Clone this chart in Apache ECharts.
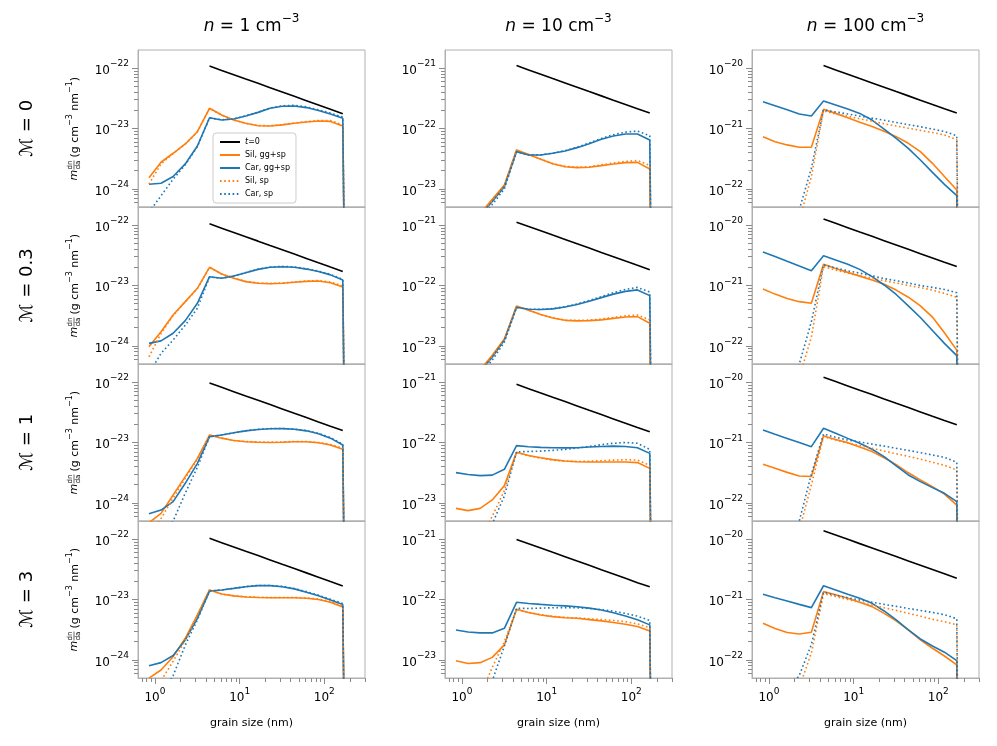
<!DOCTYPE html>
<html><head><meta charset="utf-8">
<script src="https://cdn.jsdelivr.net/npm/echarts@6/dist/echarts.min.js"></script>
<style>html,body{margin:0;padding:0;background:#fff;}#c{width:997px;height:746px;}</style>
</head><body><div id="c"></div>
<script>
// ---------- data ----------
const grainSize = [0.85, 1.18, 1.64, 2.28, 3.17, 4.41, 6.13, 8.52, 11.8, 16.5, 22.9, 31.8, 44.2, 61.4, 85.2, 118, 165, 229];
const densityLabels = ['1', '10', '100'];
const machLabels = ['0', '0.3', '1', '3'];
const seriesNames = ['t=0', 'Sil, gg+sp', 'Car, gg+sp', 'Sil, sp', 'Car, sp'];
const xTickExps = [0, 1, 2];
const yTickExps = [[-24, -23, -22], [-23, -22, -21], [-22, -21, -20]];

// t=0 curves (grain sizes index 5..16)
const t0_n1_M0   = [1.08e-22, 9.16e-23, 7.77e-23, 6.59e-23, 5.59e-23, 4.74e-23, 4.02e-23, 3.41e-23, 2.89e-23, 2.45e-23, 2.08e-23, 1.76e-23];
const t0_n10_M0  = [1.1e-21, 9.33e-22, 7.91e-22, 6.71e-22, 5.69e-22, 4.83e-22, 4.09e-22, 3.47e-22, 2.94e-22, 2.5e-22, 2.12e-22, 1.8e-22];
const t0_n100_M0 = [1.1e-20, 9.33e-21, 7.91e-21, 6.71e-21, 5.69e-21, 4.83e-21, 4.09e-21, 3.47e-21, 2.94e-21, 2.5e-21, 2.12e-21, 1.8e-21];
const t0_n1_M03   = [1.05e-22, 8.9e-23, 7.55e-23, 6.4e-23, 5.43e-23, 4.6e-23, 3.9e-23, 3.31e-23, 2.81e-23, 2.38e-23, 2.02e-23, 1.71e-23];
const t0_n10_M03  = [1.12e-21, 9.5e-22, 8.06e-22, 6.83e-22, 5.79e-22, 4.91e-22, 4.17e-22, 3.53e-22, 3.0e-22, 2.54e-22, 2.16e-22, 1.83e-22];
const t0_n100_M03 = [1.26e-20, 1.07e-20, 9.06e-21, 7.69e-21, 6.52e-21, 5.53e-21, 4.69e-21, 3.98e-21, 3.37e-21, 2.86e-21, 2.43e-21, 2.06e-21];
const t0_n1_M1   = [9.66e-23, 8.2e-23, 6.95e-23, 5.9e-23, 5.0e-23, 4.24e-23, 3.6e-23, 3.05e-23, 2.59e-23, 2.19e-23, 1.86e-23, 1.58e-23];
const t0_n10_M1  = [9.2e-22, 7.8e-22, 6.62e-22, 5.61e-22, 4.76e-22, 4.04e-22, 3.42e-22, 2.9e-22, 2.46e-22, 2.09e-22, 1.77e-22, 1.5e-22];
const t0_n100_M1 = [1.2e-20, 1.02e-20, 8.63e-21, 7.32e-21, 6.21e-21, 5.26e-21, 4.46e-21, 3.79e-21, 3.21e-21, 2.72e-21, 2.31e-21, 1.96e-21];
const t0_n1_M3   = [1.03e-22, 8.73e-23, 7.41e-23, 6.28e-23, 5.33e-23, 4.52e-23, 3.83e-23, 3.25e-23, 2.76e-23, 2.34e-23, 1.98e-23, 1.68e-23];
const t0_n10_M3  = [9.9e-22, 8.4e-22, 7.12e-22, 6.04e-22, 5.12e-22, 4.34e-22, 3.68e-22, 3.12e-22, 2.65e-22, 2.25e-22, 1.9e-22, 1.62e-22];
const t0_n100_M3 = [1.38e-20, 1.17e-20, 9.92e-21, 8.42e-21, 7.14e-21, 6.05e-21, 5.13e-21, 4.35e-21, 3.69e-21, 3.13e-21, 2.66e-21, 2.25e-21];

// n = 1, M = 0
const silGG_n1_M0 = [1.53e-24, 2.76e-24, 3.89e-24, 5.55e-24, 8.85e-24, 2.16e-23, 1.67e-23, 1.38e-23, 1.22e-23, 1.11e-23, 1.10e-23, 1.15e-23, 1.22e-23, 1.28e-23, 1.33e-23, 1.31e-23, 1.10e-23, 0];
const carGG_n1_M0 = [1.19e-24, 1.24e-24, 1.60e-24, 2.59e-24, 5.14e-24, 1.51e-23, 1.38e-23, 1.44e-23, 1.61e-23, 1.85e-23, 2.16e-23, 2.33e-23, 2.36e-23, 2.22e-23, 1.98e-23, 1.74e-23, 1.48e-23, 0];
const silSp_n1_M0 = [1.2e-24, 2.6e-24, 3.85e-24, 5.5e-24, 8.8e-24, 2.15e-23, 1.67e-23, 1.38e-23, 1.22e-23, 1.12e-23, 1.11e-23, 1.16e-23, 1.23e-23, 1.30e-23, 1.36e-23, 1.35e-23, 1.15e-23, 0];
const carSp_n1_M0 = [4.1e-25, 7.7e-25, 1.45e-24, 2.5e-24, 5.0e-24, 1.5e-23, 1.39e-23, 1.45e-23, 1.62e-23, 1.87e-23, 2.19e-23, 2.38e-23, 2.42e-23, 2.28e-23, 2.04e-23, 1.80e-23, 1.55e-23, 0];
// n = 10, M = 0
const silGG_n10_M0 = [1.3e-24, 2.3e-24, 3.9e-24, 6.7e-24, 1.16e-23, 4.41e-23, 3.7e-23, 3.1e-23, 2.6e-23, 2.33e-23, 2.25e-23, 2.28e-23, 2.43e-23, 2.59e-23, 2.72e-23, 2.75e-23, 2.14e-23, 0];
const carGG_n10_M0 = [1.2e-24, 2.1e-24, 3.6e-24, 6.2e-24, 1.09e-23, 4.14e-23, 3.65e-23, 3.65e-23, 3.88e-23, 4.25e-23, 4.82e-23, 5.61e-23, 6.62e-23, 7.52e-23, 8.11e-23, 8.11e-23, 6.46e-23, 0];
const silSp_n10_M0 = [1.2e-24, 2.2e-24, 3.7e-24, 6.4e-24, 1.12e-23, 4.38e-23, 3.7e-23, 3.1e-23, 2.62e-23, 2.36e-23, 2.29e-23, 2.33e-23, 2.5e-23, 2.68e-23, 2.85e-23, 2.95e-23, 2.45e-23, 0];
const carSp_n10_M0 = [9e-25, 1.7e-24, 3.1e-24, 5.5e-24, 1.0e-23, 4.1e-23, 3.65e-23, 3.66e-23, 3.9e-23, 4.3e-23, 4.9e-23, 5.75e-23, 6.85e-23, 7.9e-23, 8.7e-23, 9.1e-23, 7.6e-23, 0];
// n = 100, M = 0
const silGG_n100_M0 = [7.33e-22, 6.05e-22, 5.35e-22, 4.89e-22, 4.89e-22, 2.08e-21, 1.78e-21, 1.51e-21, 1.27e-21, 1.08e-21, 9.0e-22, 7.33e-22, 5.69e-22, 4.14e-22, 2.65e-22, 1.6e-22, 9.6e-23, 0];
const carGG_n100_M0 = [2.78e-21, 2.38e-21, 2.04e-21, 1.74e-21, 1.61e-21, 2.86e-21, 2.45e-21, 2.1e-21, 1.78e-21, 1.38e-21, 9.8e-22, 6.88e-22, 4.7e-22, 3.01e-22, 1.88e-22, 1.19e-22, 7.73e-23, 0];
const silSp_n100_M0 = [1e-24, 3e-24, 1e-23, 3e-23, 1.6e-22, 1.95e-21, 1.75e-21, 1.6e-21, 1.45e-21, 1.32e-21, 1.2e-21, 1.1e-21, 1.01e-21, 9.3e-22, 8.6e-22, 7.8e-22, 6.5e-22, 0];
const carSp_n100_M0 = [1.5e-24, 5e-24, 1.5e-23, 4.5e-23, 2.2e-22, 2.03e-21, 1.88e-21, 1.74e-21, 1.6e-21, 1.48e-21, 1.37e-21, 1.26e-21, 1.16e-21, 1.07e-21, 9.8e-22, 8.9e-22, 7.6e-22, 0];
// n = 1, M = 0.3
const silGG_n1_M03 = [9.7e-25, 1.72e-24, 3.25e-24, 5.4e-24, 8.98e-24, 2.0e-23, 1.55e-23, 1.32e-23, 1.16e-23, 1.09e-23, 1.07e-23, 1.09e-23, 1.13e-23, 1.17e-23, 1.19e-23, 1.11e-23, 9.45e-24, 0];
const carGG_n1_M03 = [1.10e-24, 1.21e-24, 1.62e-24, 2.62e-24, 5.07e-24, 1.40e-23, 1.32e-23, 1.44e-23, 1.63e-23, 1.85e-23, 2.0e-23, 2.05e-23, 2.0e-23, 1.87e-23, 1.70e-23, 1.50e-23, 1.23e-23, 0];
const silSp_n1_M03 = [6.6e-25, 1.6e-24, 3.2e-24, 5.35e-24, 8.9e-24, 2.0e-23, 1.55e-23, 1.32e-23, 1.17e-23, 1.10e-23, 1.08e-23, 1.10e-23, 1.14e-23, 1.19e-23, 1.21e-23, 1.14e-23, 9.8e-24, 0];
const carSp_n1_M03 = [3.5e-25, 7.5e-25, 1.25e-24, 2.2e-24, 4.2e-24, 1.38e-23, 1.32e-23, 1.44e-23, 1.64e-23, 1.87e-23, 2.02e-23, 2.07e-23, 2.03e-23, 1.9e-23, 1.73e-23, 1.53e-23, 1.26e-23, 0];
// n = 10, M = 0.3
const silGG_n10_M03 = [1.4e-24, 2.4e-24, 4.0e-24, 7.0e-24, 1.3e-23, 4.58e-23, 3.9e-23, 3.3e-23, 2.9e-23, 2.65e-23, 2.6e-23, 2.62e-23, 2.7e-23, 2.85e-23, 3.0e-23, 3.05e-23, 2.37e-23, 0];
const carGG_n10_M03 = [1.3e-24, 2.2e-24, 3.8e-24, 6.5e-24, 1.25e-23, 4.36e-23, 4.05e-23, 4.0e-23, 4.1e-23, 4.4e-23, 4.85e-23, 5.5e-23, 6.3e-23, 7.2e-23, 8.0e-23, 8.45e-23, 6.8e-23, 0];
const silSp_n10_M03 = [1.3e-24, 2.3e-24, 3.8e-24, 6.7e-24, 1.25e-23, 4.55e-23, 3.9e-23, 3.3e-23, 2.92e-23, 2.68e-23, 2.64e-23, 2.68e-23, 2.78e-23, 2.95e-23, 3.15e-23, 3.25e-23, 2.7e-23, 0];
const carSp_n10_M03 = [1.0e-24, 1.8e-24, 3.3e-24, 5.8e-24, 1.15e-23, 4.3e-23, 4.05e-23, 4.02e-23, 4.15e-23, 4.45e-23, 4.95e-23, 5.65e-23, 6.55e-23, 7.6e-23, 8.6e-23, 9.3e-23, 7.8e-23, 0];
// n = 100, M = 0.3
const silGG_n100_M03 = [8.75e-22, 7.2e-22, 6.1e-22, 5.4e-22, 5.08e-22, 2.24e-21, 1.92e-21, 1.65e-21, 1.43e-21, 1.23e-21, 1.05e-21, 8.4e-22, 6.4e-22, 4.6e-22, 3.0e-22, 1.65e-22, 8.5e-23, 0];
const carGG_n100_M03 = [3.6e-21, 3.03e-21, 2.52e-21, 2.1e-21, 1.76e-21, 3.12e-21, 2.65e-21, 2.25e-21, 1.85e-21, 1.4e-21, 1.02e-21, 7.1e-22, 4.6e-22, 2.95e-22, 1.8e-22, 1.1e-22, 6.9e-23, 0];
const silSp_n100_M03 = [1e-24, 3e-24, 1e-23, 3e-23, 1.4e-22, 2.05e-21, 1.8e-21, 1.6e-21, 1.45e-21, 1.32e-21, 1.2e-21, 1.1e-21, 1.0e-21, 9.2e-22, 8.4e-22, 7.4e-22, 6.4e-22, 0];
const carSp_n100_M03 = [1.5e-24, 5e-24, 1.5e-23, 5e-23, 2.5e-22, 2.2e-21, 1.95e-21, 1.75e-21, 1.6e-21, 1.45e-21, 1.3e-21, 1.2e-21, 1.1e-21, 1.0e-21, 9.3e-22, 8.6e-22, 7.6e-22, 0];
// n = 1, M = 1
const silGG_n1_M1 = [4.7e-25, 6.7e-25, 1.35e-24, 2.72e-24, 5.47e-24, 1.33e-23, 1.18e-23, 1.08e-23, 1.03e-23, 1.01e-23, 1.0e-23, 1.01e-23, 1.03e-23, 1.03e-23, 9.9e-24, 9.1e-24, 7.7e-24, 0];
const carGG_n1_M1 = [6.6e-25, 7.6e-25, 1.05e-24, 2.11e-24, 4.52e-24, 1.25e-23, 1.33e-23, 1.45e-23, 1.56e-23, 1.64e-23, 1.69e-23, 1.70e-23, 1.66e-23, 1.56e-23, 1.40e-23, 1.18e-23, 9.1e-24, 0];
const silSp_n1_M1 = [2.8e-25, 5.5e-25, 1.2e-24, 2.55e-24, 5.3e-24, 1.32e-23, 1.18e-23, 1.08e-23, 1.04e-23, 1.02e-23, 1.01e-23, 1.02e-23, 1.04e-23, 1.04e-23, 1.0e-23, 9.3e-24, 8.0e-24, 0];
const carSp_n1_M1 = [1.5e-25, 3e-25, 5.0e-25, 1.45e-24, 3.9e-24, 1.24e-23, 1.33e-23, 1.45e-23, 1.57e-23, 1.65e-23, 1.70e-23, 1.71e-23, 1.67e-23, 1.58e-23, 1.42e-23, 1.21e-23, 9.4e-24, 0];
// n = 10, M = 1
const silGG_n10_M1 = [8.1e-24, 7.45e-24, 8.1e-24, 1.12e-23, 1.93e-23, 6.87e-23, 6.1e-23, 5.6e-23, 5.2e-23, 4.95e-23, 4.8e-23, 4.75e-23, 4.75e-23, 4.75e-23, 4.75e-23, 4.65e-23, 3.73e-23, 0];
const carGG_n10_M1 = [3.17e-23, 2.95e-23, 2.83e-23, 2.88e-23, 3.6e-23, 8.87e-23, 8.5e-23, 8.3e-23, 8.2e-23, 8.15e-23, 8.2e-23, 8.4e-23, 8.6e-23, 8.7e-23, 8.6e-23, 8.2e-23, 6.6e-23, 0];
const silSp_n10_M1 = [3e-25, 8e-25, 2.5e-24, 6e-24, 1.6e-23, 6.8e-23, 6.0e-23, 5.5e-23, 5.1e-23, 4.9e-23, 4.85e-23, 4.9e-23, 5.0e-23, 5.1e-23, 5.2e-23, 5.1e-23, 4.2e-23, 0];
const carSp_n10_M1 = [2e-25, 5e-25, 1.8e-24, 4.5e-24, 1.3e-23, 7.0e-23, 7.1e-23, 7.2e-23, 7.4e-23, 7.7e-23, 8.1e-23, 8.6e-23, 9.2e-23, 9.7e-23, 1.0e-22, 9.7e-23, 7.7e-23, 0];
// n = 100, M = 1
const silGG_n100_M1 = [4.36e-22, 3.75e-22, 3.2e-22, 2.79e-22, 2.74e-22, 1.28e-21, 1.12e-21, 9.95e-22, 8.4e-22, 7.07e-22, 5.6e-22, 4.3e-22, 3.15e-22, 2.4e-22, 1.86e-22, 1.4e-22, 9.2e-23, 0];
const carGG_n100_M1 = [1.61e-21, 1.37e-21, 1.17e-21, 1.0e-21, 8.54e-22, 1.72e-21, 1.42e-21, 1.17e-21, 9.7e-22, 7.73e-22, 5.83e-22, 4.09e-22, 2.9e-22, 2.25e-22, 1.79e-22, 1.44e-22, 1.05e-22, 0];
const silSp_n100_M1 = [8e-25, 3e-24, 1e-23, 3.5e-23, 2.0e-22, 1.25e-21, 1.1e-21, 9.8e-22, 8.9e-22, 8.0e-22, 7.2e-22, 6.5e-22, 5.9e-22, 5.3e-22, 4.7e-22, 4.2e-22, 3.5e-22, 0];
const carSp_n100_M1 = [1e-24, 4e-24, 1.5e-23, 5e-23, 3.0e-22, 1.38e-21, 1.22e-21, 1.1e-21, 1.02e-21, 9.4e-22, 8.7e-22, 8.0e-22, 7.4e-22, 6.8e-22, 6.2e-22, 5.7e-22, 4.7e-22, 0];
// n = 1, M = 3
const silGG_n1_M3 = [5.0e-25, 6.8e-25, 1.13e-24, 2.28e-24, 5.55e-24, 1.44e-23, 1.23e-23, 1.15e-23, 1.10e-23, 1.08e-23, 1.07e-23, 1.07e-23, 1.07e-23, 1.05e-23, 1.0e-23, 9.0e-24, 7.5e-24, 0];
const carGG_n1_M3 = [8.0e-25, 9.0e-25, 1.18e-24, 2.14e-24, 4.88e-24, 1.38e-23, 1.44e-23, 1.53e-23, 1.63e-23, 1.70e-23, 1.70e-23, 1.63e-23, 1.50e-23, 1.32e-23, 1.15e-23, 9.8e-24, 8.3e-24, 0];
const silSp_n1_M3 = [2.0e-25, 4.5e-25, 9.5e-25, 2.1e-24, 5.4e-24, 1.43e-23, 1.23e-23, 1.15e-23, 1.11e-23, 1.09e-23, 1.08e-23, 1.08e-23, 1.08e-23, 1.06e-23, 1.02e-23, 9.3e-24, 7.8e-24, 0];
const carSp_n1_M3 = [1.2e-25, 2.5e-25, 5.5e-25, 1.75e-24, 4.6e-24, 1.37e-23, 1.44e-23, 1.53e-23, 1.64e-23, 1.71e-23, 1.71e-23, 1.65e-23, 1.52e-23, 1.35e-23, 1.18e-23, 1.01e-23, 8.6e-24, 0];
// n = 10, M = 3
const silGG_n10_M3 = [9.7e-24, 8.7e-24, 9.0e-24, 1.1e-23, 1.77e-23, 6.88e-23, 6.1e-23, 5.55e-23, 5.2e-23, 5.0e-23, 4.9e-23, 4.65e-23, 4.42e-23, 4.15e-23, 3.89e-23, 3.56e-23, 3.01e-23, 0];
const carGG_n10_M3 = [3.13e-23, 2.9e-23, 2.8e-23, 2.8e-23, 3.33e-23, 8.98e-23, 8.6e-23, 8.3e-23, 8.05e-23, 7.85e-23, 7.6e-23, 7.2e-23, 6.7e-23, 6.05e-23, 5.35e-23, 4.6e-23, 3.8e-23, 0];
const silSp_n10_M3 = [3e-25, 1e-24, 2.5e-24, 7.5e-24, 2.0e-23, 6.8e-23, 6.1e-23, 5.6e-23, 5.25e-23, 5.05e-23, 4.95e-23, 4.8e-23, 4.65e-23, 4.5e-23, 4.3e-23, 3.95e-23, 3.4e-23, 0];
const carSp_n10_M3 = [2e-25, 6e-25, 1.8e-24, 4.5e-24, 1.7e-23, 7.15e-23, 7.1e-23, 7.2e-23, 7.3e-23, 7.35e-23, 7.3e-23, 7.1e-23, 6.8e-23, 6.4e-23, 5.9e-23, 5.3e-23, 4.5e-23, 0];
// n = 100, M = 3
const silGG_n100_M3 = [4.04e-22, 3.3e-22, 2.85e-22, 2.69e-22, 2.87e-22, 1.35e-21, 1.2e-21, 1.05e-21, 9.0e-22, 7.62e-22, 5.9e-22, 4.42e-22, 3.13e-22, 2.14e-22, 1.56e-22, 1.16e-22, 8.24e-23, 0];
const carGG_n100_M3 = [1.22e-21, 1.07e-21, 9.45e-22, 8.3e-22, 7.33e-22, 1.69e-21, 1.44e-21, 1.22e-21, 1.05e-21, 8.65e-22, 6.46e-22, 4.58e-22, 3.13e-22, 2.22e-22, 1.7e-22, 1.34e-22, 9.7e-23, 0];
const silSp_n100_M3 = [8e-25, 3e-24, 1.5e-23, 3.5e-23, 1.3e-22, 1.25e-21, 1.12e-21, 1.0e-21, 9.0e-22, 8.1e-22, 7.3e-22, 6.6e-22, 5.9e-22, 5.3e-22, 4.7e-22, 4.3e-22, 3.8e-22, 0];
const carSp_n100_M3 = [1e-24, 5e-24, 3e-23, 5.5e-23, 1.8e-22, 1.32e-21, 1.18e-21, 1.07e-21, 9.8e-22, 9.0e-22, 8.3e-22, 7.7e-22, 7.1e-22, 6.6e-22, 6.1e-22, 5.6e-22, 4.8e-22, 0];

// ---------- build ----------
const panels = [
  [[t0_n1_M0, silGG_n1_M0, carGG_n1_M0, silSp_n1_M0, carSp_n1_M0],
   [t0_n10_M0, silGG_n10_M0, carGG_n10_M0, silSp_n10_M0, carSp_n10_M0],
   [t0_n100_M0, silGG_n100_M0, carGG_n100_M0, silSp_n100_M0, carSp_n100_M0]],
  [[t0_n1_M03, silGG_n1_M03, carGG_n1_M03, silSp_n1_M03, carSp_n1_M03],
   [t0_n10_M03, silGG_n10_M03, carGG_n10_M03, silSp_n10_M03, carSp_n10_M03],
   [t0_n100_M03, silGG_n100_M03, carGG_n100_M03, silSp_n100_M03, carSp_n100_M03]],
  [[t0_n1_M1, silGG_n1_M1, carGG_n1_M1, silSp_n1_M1, carSp_n1_M1],
   [t0_n10_M1, silGG_n10_M1, carGG_n10_M1, silSp_n10_M1, carSp_n10_M1],
   [t0_n100_M1, silGG_n100_M1, carGG_n100_M1, silSp_n100_M1, carSp_n100_M1]],
  [[t0_n1_M3, silGG_n1_M3, carGG_n1_M3, silSp_n1_M3, carSp_n1_M3],
   [t0_n10_M3, silGG_n10_M3, carGG_n10_M3, silSp_n10_M3, carSp_n10_M3],
   [t0_n100_M3, silGG_n100_M3, carGG_n100_M3, silSp_n100_M3, carSp_n100_M3]]
];

const FONT = 'DejaVu Sans';
const L = [138, 445, 752], W = 227, TOP = 50, H = 157;
const XMIN = -0.2, XMAX = 2.48;
const YMIN = [-24.3, -23.3, -22.3], SPAN = 2.6;
const MINUS = '\u2212';
const lx = grainSize.map(v => Math.log10(v));
const CLIP = 1e-40; // zeros drawn as a vertical drop (like a clipped log axis)

function supLabel(v) {
  const n = Math.round(v);
  return '{b|10}{s|' + (n < 0 ? MINUS + (-n) : String(n)) + '}';
}
const tickRich = {
  b: { fontFamily: FONT, fontSize: 12, color: '#000', padding: [5, 0, 0, 0], verticalAlign: 'bottom' },
  s: { fontFamily: FONT, fontSize: 9, color: '#000', verticalAlign: 'top' }
};
function minorTicks(lo, hi) {
  const out = [];
  for (let n = Math.floor(lo) - 1; n <= Math.ceil(hi); n++)
    for (let k = 2; k <= 9; k++) { const v = n + Math.log10(k); if (v > lo && v < hi) out.push(v); }
  return out;
}
const minorX = minorTicks(XMIN, XMAX);
const TICKC = '#8a8a8a';
const colors = ['#000000', '#ff7f0e', '#1f77b4', '#ff7f0e', '#1f77b4'];
const dotted = [false, false, false, true, true];

const grid = [], xAxis = [], yAxis = [], series = [];
for (let r = 0; r < 4; r++) {
  for (let c = 0; c < 3; c++) {
    const g = grid.length;
    grid.push({ left: L[c], top: TOP + H * r, width: W, height: H, show: true, borderColor: '#b0b0b0', borderWidth: 1, backgroundColor: 'transparent' });
    const bottom = r === 3;
    const ymin = YMIN[c], ymax = YMIN[c] + SPAN;
    xAxis.push({ type: 'value', gridIndex: g, min: XMIN, max: XMAX, position: 'bottom',
      axisLine: { show: true, onZero: false, lineStyle: { color: '#b0b0b0', width: 1 } }, splitLine: { show: false },
      axisTick: { show: bottom, inside: false, customValues: xTickExps, length: 6, lineStyle: { color: TICKC, width: 1 } },
      axisLabel: { show: bottom, customValues: xTickExps, formatter: supLabel, rich: tickRich, margin: 9 },
      name: bottom ? 'grain size (nm)' : '', nameLocation: 'middle', nameGap: 40,
      nameTextStyle: { fontFamily: FONT, fontSize: 11, color: '#000' } });
    xAxis.push({ type: 'value', gridIndex: g, min: XMIN, max: XMAX, position: 'bottom',
      axisLine: { show: false, onZero: false }, splitLine: { show: false }, axisLabel: { show: false },
      axisTick: { show: bottom, inside: false, customValues: minorX, length: 4, lineStyle: { color: TICKC, width: 1 } } });
    yAxis.push({ type: 'value', gridIndex: g, min: ymin, max: ymax, position: 'left',
      axisLine: { show: true, onZero: false, lineStyle: { color: '#b0b0b0', width: 1 } }, splitLine: { show: false },
      axisTick: { show: true, inside: false, customValues: yTickExps[c], length: 6, lineStyle: { color: TICKC, width: 1 } },
      axisLabel: { show: true, customValues: yTickExps[c], formatter: supLabel, rich: tickRich, margin: 9 } });
    yAxis.push({ type: 'value', gridIndex: g, min: ymin, max: ymax, position: 'left',
      axisLine: { show: false, onZero: false }, splitLine: { show: false }, axisLabel: { show: false },
      axisTick: { show: true, inside: false, customValues: minorTicks(ymin, ymax), length: 4, lineStyle: { color: TICKC, width: 1 } } });
    const arrs = panels[r][c];
    arrs.forEach((arr, si) => {
      const data = si === 0
        ? arr.map((v, i) => [lx[i + 5], Math.log10(v)])
        : arr.map((v, k) => [lx[k], Math.log10(Math.max(v, CLIP))]);
      series.push({ type: 'line', name: seriesNames[si], xAxisIndex: 2 * g, yAxisIndex: 2 * g,
        data, symbol: 'none', showSymbol: false, clip: true, silent: true, animation: false,
        lineStyle: { color: colors[si], width: 1.6, type: dotted[si] ? [1.6, 2.6] : 'solid' },
        itemStyle: { color: colors[si] } });
    });
  }
}

// text graphics
const black = '#000';
const graphic = [];
densityLabels.forEach((d, c) => {
  graphic.push({ type: 'text', x: L[c] + W / 2, y: 24, silent: true,
    style: { text: '{i|n}{b| = ' + d + ' cm}{s|' + MINUS + '3}', align: 'center', verticalAlign: 'middle',
      textAlign: 'center', textVerticalAlign: 'middle', font: '17px ' + FONT, fill: black,
      rich: { i: { fontFamily: FONT, fontSize: 17, fontStyle: 'italic', fill: black, padding: [6, 0, 0, 0], verticalAlign: 'bottom' },
              b: { fontFamily: FONT, fontSize: 17, fill: black, padding: [6, 0, 0, 0], verticalAlign: 'bottom' },
              s: { fontFamily: FONT, fontSize: 12, fill: black, verticalAlign: 'top' } } } });
});
const supRich = {
  b: { fontFamily: FONT, fontSize: 11, fill: black, padding: [4, 0, 0, 0], verticalAlign: 'bottom' },
  s: { fontFamily: FONT, fontSize: 8, fill: black, verticalAlign: 'top' }
};
machLabels.forEach((m, r) => {
  const cy = TOP + H * r + H / 2;
  graphic.push({ type: 'text', x: 27, y: cy, rotation: Math.PI / 2, silent: true,
    style: { text: '\u2133 = ' + m, align: 'center', verticalAlign: 'middle', textAlign: 'center', textVerticalAlign: 'middle',
      font: '18px ' + FONT, fill: black } });
  graphic.push({ type: 'group', x: 73, y: cy, rotation: Math.PI / 2, silent: true, children: [
    { type: 'text', x: -52, y: 1, style: { text: 'm', font: 'italic 11px ' + FONT, fill: black, align: 'left', verticalAlign: 'middle', textAlign: 'left', textVerticalAlign: 'middle' } },
    { type: 'text', x: -36.5, y: -3, style: { text: 'dn', font: '7px ' + FONT, fill: black, align: 'center', verticalAlign: 'middle', textAlign: 'center', textVerticalAlign: 'middle' } },
    { type: 'line', shape: { x1: -41, y1: 1, x2: -32, y2: 1 }, style: { stroke: black, lineWidth: 0.6 } },
    { type: 'text', x: -36.5, y: 5, style: { text: 'da', font: '7px ' + FONT, fill: black, align: 'center', verticalAlign: 'middle', textAlign: 'center', textVerticalAlign: 'middle' } },
    { type: 'text', x: -29, y: 0, style: { text: '{b|(g cm}{s|' + MINUS + '3}{b| nm}{s|' + MINUS + '1}{b|)}', font: '11px ' + FONT, fill: black,
      align: 'left', verticalAlign: 'middle', textAlign: 'left', textVerticalAlign: 'middle', rich: supRich } }
  ] });
});

const chart = echarts.init(document.getElementById('c'), null, { renderer: 'canvas' });
chart.setOption({
  animation: false,
  backgroundColor: '#ffffff',
  textStyle: { fontFamily: FONT },
  grid, xAxis, yAxis, series, graphic,
  legend: {
    data: seriesNames, orient: 'vertical', left: 213, top: 133,
    itemWidth: 20, itemHeight: 8, itemGap: 5,
    itemStyle: { opacity: 0, borderWidth: 0 },
    formatter: name => name === 't=0' ? '{i|t}=0' : name,
    textStyle: { fontFamily: FONT, fontSize: 8, color: '#000', rich: { i: { fontStyle: 'italic', fontFamily: FONT, fontSize: 8, color: '#000' } } },
    backgroundColor: 'rgba(255,255,255,0.8)', borderColor: '#cccccc', borderWidth: 1, borderRadius: 3,
    padding: [5, 6, 5, 6], selectedMode: false
  }
});
</script></body></html>
